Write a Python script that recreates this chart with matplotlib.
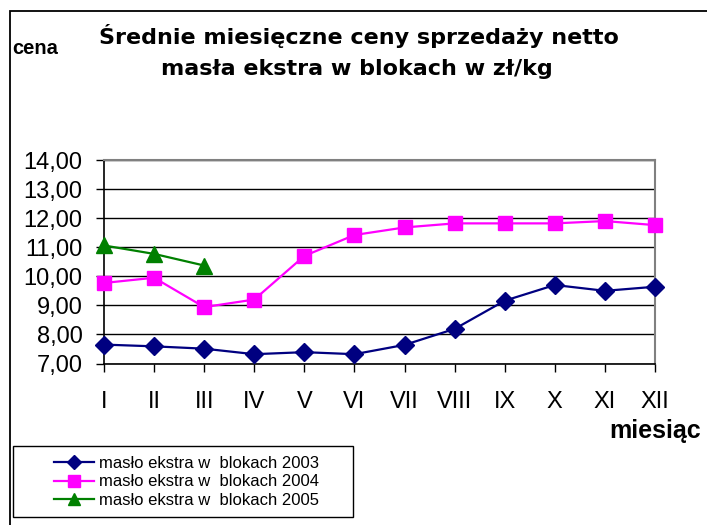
import matplotlib.pyplot as plt
from matplotlib.patches import Rectangle

# dane
miesiace = ['I', 'II', 'III', 'IV', 'V', 'VI', 'VII', 'VIII', 'IX', 'X', 'XI', 'XII']
ceny_2003 = [7.65, 7.59, 7.51, 7.32, 7.39, 7.32, 7.64, 8.19, 9.16, 9.70, 9.50, 9.64]
ceny_2004 = [9.77, 9.95, 8.94, 9.20, 10.70, 11.42, 11.68, 11.82, 11.82, 11.82, 11.90, 11.76]
ceny_2005 = [11.06, 10.77, 10.37]
y_ticks = [7, 8, 9, 10, 11, 12, 13, 14]

plt.rcParams['font.family'] = ['Liberation Sans', 'DejaVu Sans']

W, H = 707, 525
fig = plt.figure(figsize=(W / 100, H / 100), dpi=100)

# ramka wykresu
fig.patches.append(Rectangle((10 / W, -0.1), 1.2, (H - 11) / H + 0.1,
                             transform=fig.transFigure, fill=False,
                             edgecolor='black', linewidth=1.3))

ax = fig.add_axes([104 / W, (H - 363.5) / H, (655 - 104) / W, (363.5 - 160) / H])

x = list(range(len(miesiace)))
ax.plot(x, ceny_2003, color='#000080', marker='D', markersize=9, linewidth=1.6,
        label='masło ekstra w  blokach 2003', clip_on=False, zorder=3)
ax.plot(x, ceny_2004, color='#FF00FF', marker='s', markersize=10, linewidth=1.6,
        label='masło ekstra w  blokach 2004', clip_on=False, zorder=3)
ax.plot(x[:len(ceny_2005)], ceny_2005, color='#008000', marker='^', markersize=11,
        linewidth=1.6, label='masło ekstra w  blokach 2005', clip_on=False, zorder=3)

ax.set_xlim(0, 11)
ax.set_ylim(7, 14)
ax.set_xticks(x)
ax.set_xticklabels(miesiace)
ax.set_yticks(y_ticks)
ax.yaxis.set_major_formatter(plt.FuncFormatter(lambda v, p: ('%.2f' % v).replace('.', ',')))
ax.tick_params(axis='both', labelsize=17, direction='out', length=6, width=1)
ax.tick_params(axis='x', pad=14)
ax.tick_params(axis='y', pad=9.5)

ax.grid(axis='y', color='black', linewidth=1)
ax.set_axisbelow(True)
for s in ['top', 'right']:
    ax.spines[s].set_color('#808080')
    ax.spines[s].set_linewidth(1.5)
ax.spines['left'].set_linewidth(1.2)
ax.spines['bottom'].set_linewidth(1.2)

# tytuly
fig.text(359 / W, 1 - 36 / H, 'Średnie miesięczne ceny sprzedaży netto',
         ha='center', va='center', fontsize=16, fontweight='bold',
         family=['DejaVu Sans'])
fig.text(357 / W, 1 - 69 / H, 'masła ekstra w blokach w zł/kg',
         ha='center', va='center', fontsize=16, fontweight='bold',
         family=['DejaVu Sans'])
fig.text(12 / W, 1 - 48 / H, 'cena', ha='left', va='center', fontsize=14.5,
         fontweight='bold')
fig.text(701 / W, 1 - 431 / H, 'miesiąc', ha='right', va='center', fontsize=18,
         fontweight='bold')

# legenda w osobnej ramce
fig.patches.append(Rectangle((13 / W, 1 - 517 / H), 340 / W, 71 / H,
                             transform=fig.transFigure, fill=False,
                             edgecolor='black', linewidth=1))
fig.legend(loc='center', bbox_to_anchor=(187 / W, 1 - 482 / H), frameon=False,
           fontsize=12, handlelength=2.4, labelspacing=0.2, handletextpad=0.3,
           borderpad=0, markerscale=0.8)

fig.savefig('out.png', dpi=100)
